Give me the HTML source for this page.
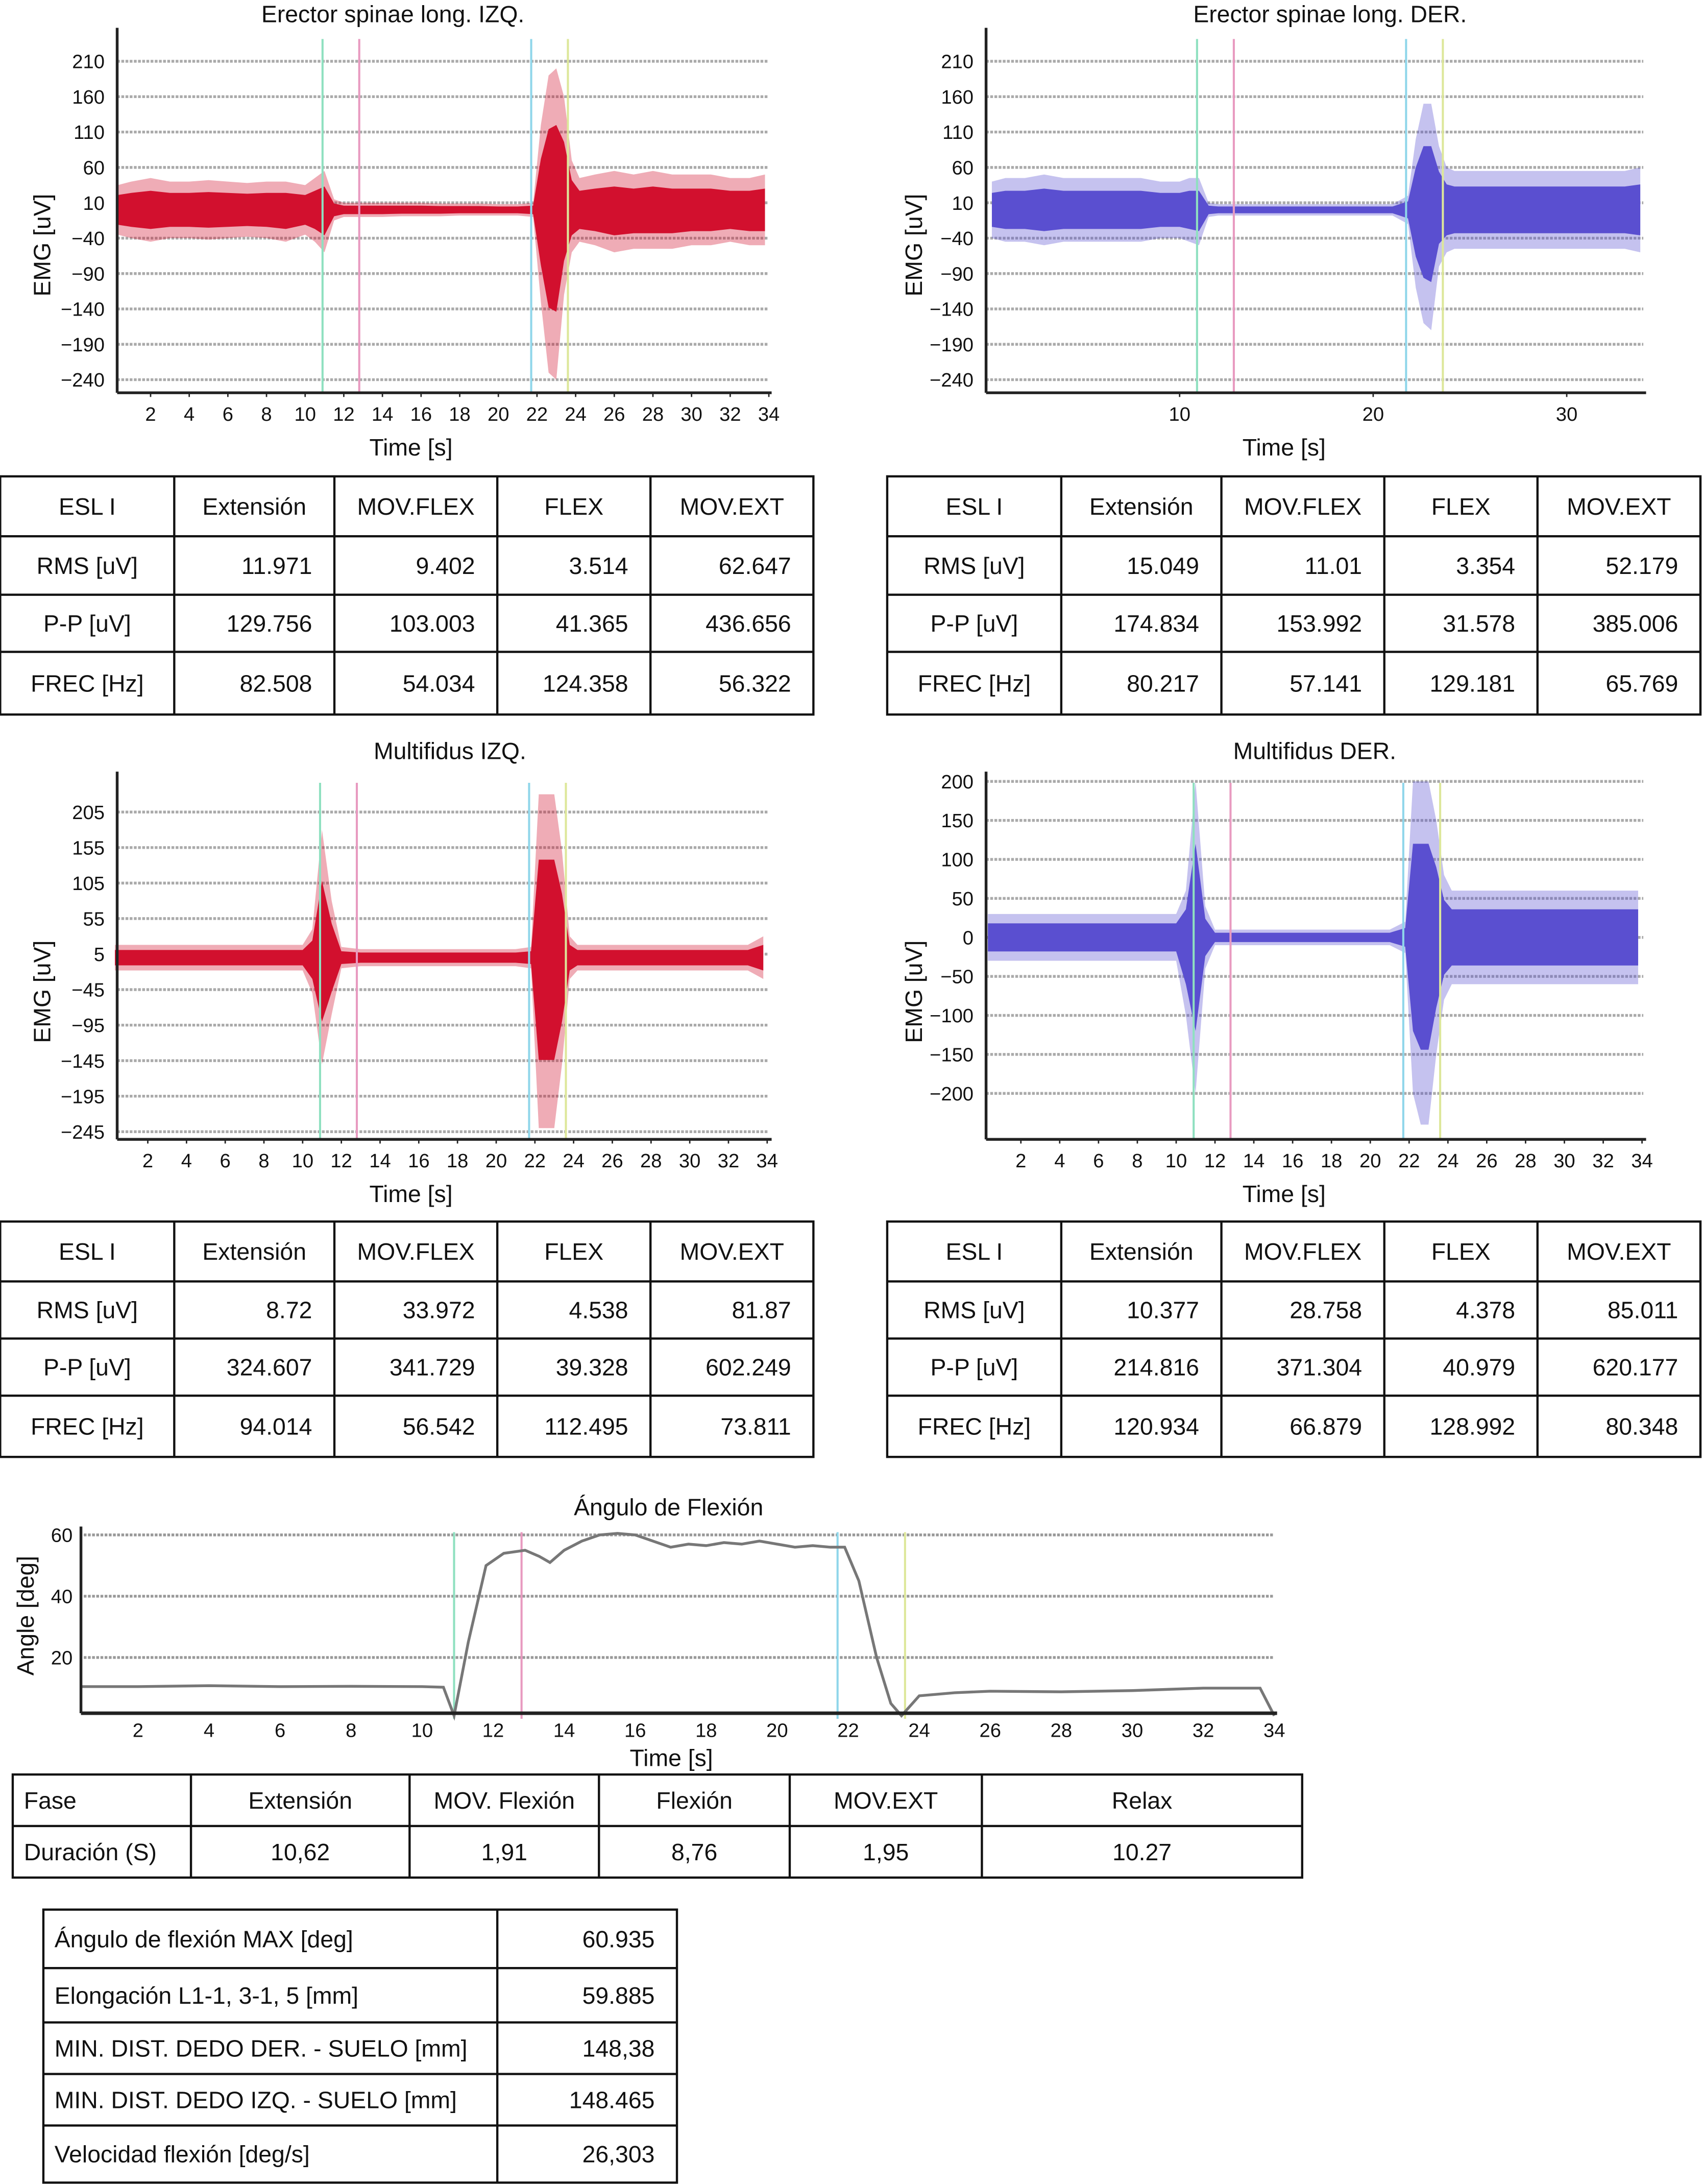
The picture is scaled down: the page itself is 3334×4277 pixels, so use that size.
<!DOCTYPE html>
<html><head><meta charset="utf-8"><style>
html,body{margin:0;padding:0;background:#fff}
svg{display:block}
text{font-family:"Liberation Sans Narrow","Liberation Sans",sans-serif;fill:#111}
</style></head><body>
<svg id="root" xmlns="http://www.w3.org/2000/svg" width="3334" height="4277" viewBox="0 0 1222 1568">
<rect width="1222" height="1568" fill="#fff"/>
</svg>
<script>
const NS="http://www.w3.org/2000/svg";
const root=document.getElementById('root');
function el(tag,attrs,parent,txt){const e=document.createElementNS(NS,tag);for(const k in attrs)e.setAttribute(k,attrs[k]);if(txt!==undefined)e.textContent=txt;(parent||root).appendChild(e);return e;}

// ===== DATA =====
const emgTimes=[0.3,1,2,3,4,5,6,7,8,9,10,10.5,11,11.5,12,13,14,15,16,17,18,19,20,21,21.8,22.2,22.6,23,23.4,23.8,24.2,25,26,27,28,29,30,31,32,33,33.8];
const eslIzqTop=[35,40,45,40,40,42,40,38,40,40,35,45,55,15,10,10,10,10,10,9,9,9,8,8,10,120,190,200,160,70,45,50,55,50,55,50,50,50,45,45,50];
const eslIzqBot=[35,40,45,40,40,42,40,38,40,45,35,45,60,15,10,10,10,9,9,9,8,8,8,8,10,130,230,240,120,60,45,50,60,55,55,55,50,50,45,50,50];
const eslDerTop=[40,45,45,50,45,45,45,45,45,40,40,45,45,10,8,8,8,8,8,8,8,8,8,8,20,100,150,150,90,60,55,55,55,55,55,55,55,55,55,55,60];
const eslDerBot=[40,45,45,50,45,45,45,45,45,40,40,45,50,10,8,8,8,8,8,8,8,8,8,8,20,110,160,170,80,60,55,55,55,55,55,55,55,55,55,55,60];
const mfIzqTop=[18,18,18,18,18,18,18,18,18,18,18,40,180,80,15,12,12,12,12,12,12,12,12,12,15,230,230,230,150,30,18,18,18,18,18,18,18,18,18,18,30];
const mfIzqBot=[18,18,18,18,18,18,18,18,18,18,18,50,150,80,15,12,12,12,12,12,12,12,12,12,15,240,240,240,150,30,18,18,18,18,18,18,18,18,18,18,30];
const mfDerTop=[30,30,30,30,30,30,30,30,30,30,30,60,200,40,10,10,10,10,10,10,10,10,10,10,20,200,200,200,150,80,60,60,60,60,60,60,60,60,60,60,60];
const mfDerBot=[30,30,30,30,30,30,30,30,30,30,30,100,200,40,10,10,10,10,10,10,10,10,10,10,20,200,240,240,150,80,60,60,60,60,60,60,60,60,60,60,60];
const eventTimes=[10.9,12.8,21.7,23.6];
const eventColors=["#8fe0c0","#e89ac0","#8fd6ea","#dde79a"];
const angleTimes=[0.4,2,4,6,8,10,10.6,10.9,11.3,11.8,12.3,12.9,13.3,13.6,14,14.5,15,15.5,16,16.5,17,17.5,18,18.5,19,19.5,20,20.5,21,21.5,21.9,22.3,22.8,23.2,23.5,24,25,26,28,30,32,33.6,34];
const angleVals=[10.5,10.5,10.8,10.5,10.6,10.5,10.3,1,25,50,54,55,53,51,55,58,60,60.5,60,58,56,57,56.5,57.5,57,58,57,56,56.5,56,56,45,20,5,1,7.5,8.5,9,8.8,9.2,10,10,1];

// ===== helpers =====
function axisLines(g,x0,x1,y0,y1){
  el('line',{x1:x0,y1:y0-8,x2:x0,y2:y1,stroke:'#222','stroke-width':2},g);
  el('line',{x1:x0,y1:y1,x2:x1+2,y2:y1,stroke:'#222','stroke-width':2},g);
}
function emgChart(o){
  const g=el('g',{});
  
  
  const X=t=>o.xa+(t-o.t0)*o.xs, Y=v=>o.y0+(o.v0-v)*o.ys;
  const tt=el('text',{x:o.tx,y:o.ty,'font-size':17,'text-anchor':'middle'},g,o.title);
  
  o.yt.forEach(v=>{
    el('line',{x1:o.left,x2:o.right,y1:Y(v),y2:Y(v),stroke:'#aaa','stroke-width':2,'stroke-dasharray':'2 1'},g);
    const t=el('text',{x:o.left-9,y:Y(v)+5,'font-size':14,'text-anchor':'end'},g,(v<0?'\u2212'+(-v):v));
    
  });
  o.xt.forEach(v=>{
    el('line',{x1:X(v),x2:X(v),y1:o.bottom,y2:o.bottom+3,stroke:'#222'},g);
    const t=el('text',{x:X(v),y:o.bottom+20,'font-size':14,'text-anchor':'middle'},g,v);
    
  });
  let pts=[];
  emgTimes.forEach((t,i)=>pts.push(X(t)+','+Y(o.base+o.top[i])));
  for(let i=emgTimes.length-1;i>=0;i--)pts.push(X(emgTimes[i])+','+Y(o.base-o.bot[i]));
  const p1=el('polygon',{points:pts.join(' '),fill:o.color,opacity:0.35},g);
  
  pts=[];
  emgTimes.forEach((t,i)=>pts.push(X(t)+','+Y(o.base+o.top[i]*0.6)));
  for(let i=emgTimes.length-1;i>=0;i--)pts.push(X(emgTimes[i])+','+Y(o.base-o.bot[i]*0.6));
  const p2=el('polygon',{points:pts.join(' '),fill:o.color},g);
  
  eventTimes.forEach((t,i)=>{
    const l=el('line',{x1:X(t),x2:X(t),y1:o.top0,y2:o.bottom,stroke:eventColors[i],'stroke-width':1.5},g);
    
  });
  axisLines(g,o.left,o.right,o.top0,o.bottom);
  const xl=el('text',{x:o.xlx,y:o.bottom+45,'font-size':17,'text-anchor':'middle'},g,'Time [s]');
  
  const yl=el('text',{x:0,y:0,'font-size':17,'text-anchor':'middle',transform:`translate(${o.ylx},${o.yly}) rotate(-90)`,style:'font-family:"Liberation Sans",sans-serif'},g,'EMG [uV]');
  
}
const evenT=[2,4,6,8,10,12,14,16,18,20,22,24,26,28,30,32,34];
emgChart({name:'esl-izq-chart',title:'Erector spinae long. IZQ.',tx:282,ty:16,xa:108,t0:2,xs:13.875,y0:44,v0:210,ys:25.4/50,
  yt:[210,160,110,60,10,-40,-90,-140,-190,-240],xt:evenT,left:84,right:552,top0:28,bottom:282,base:0,top:eslIzqTop,bot:eslIzqBot,color:'#d2102e',xlx:295,ylx:36,yly:176});
emgChart({name:'esl-der-chart',title:'Erector spinae long. DER.',tx:955,ty:16,xa:847,t0:10,xs:13.9,y0:44,v0:210,ys:25.4/50,
  yt:[210,160,110,60,10,-40,-90,-140,-190,-240],xt:[10,20,30],left:708,right:1180,top0:28,bottom:282,base:0,top:eslDerTop,bot:eslDerBot,color:'#5a4fd0',xlx:922,ylx:662,yly:176});
emgChart({name:'multifidus-izq-chart',title:'Multifidus IZQ.',tx:323,ty:545,xa:106,t0:2,xs:13.9,y0:583,v0:205,ys:25.5/50,
  yt:[205,155,105,55,5,-45,-95,-145,-195,-245],xt:evenT,left:84,right:552,top0:562,bottom:818,base:0,top:mfIzqTop,bot:mfIzqBot,color:'#d2102e',xlx:295,ylx:36,yly:712});
emgChart({name:'multifidus-der-chart',title:'Multifidus DER.',tx:944,ty:545,xa:733,t0:2,xs:13.94,y0:561,v0:200,ys:28/50,
  yt:[200,150,100,50,0,-50,-100,-150,-200],xt:evenT,left:708,right:1180,top0:562,bottom:818,base:0,top:mfDerTop,bot:mfDerBot,color:'#5a4fd0',xlx:922,ylx:662,yly:712});

// ===== tables =====
function table(name,x,cols,rows,data,aligns,fs){
  const g=el('g',{});
  
  const W=cols[cols.length-1],Ht=rows[rows.length-1]-rows[0];
  el('rect',{x:x,y:rows[0],width:W,height:Ht,fill:'none',stroke:'#111','stroke-width':1.6},g);
  rows.slice(1,-1).forEach(r=>el('line',{x1:x,x2:x+W,y1:r,y2:r,stroke:'#111','stroke-width':1.6},g));
  cols.slice(1,-1).forEach(c=>el('line',{x1:x+c,x2:x+c,y1:rows[0],y2:rows[rows.length-1],stroke:'#111','stroke-width':1.6},g));
  data.forEach((row,ri)=>row.forEach((txt,ci)=>{
    const a=aligns(ri,ci);const cx0=x+cols[ci],cx1=x+cols[ci+1];
    const tx=a==='start'?cx0+8:a==='end'?cx1-16:(cx0+cx1)/2;
    const t=el('text',{x:tx,y:(rows[ri]+rows[ri+1])/2+6,'font-size':fs,'text-anchor':a},g,txt);
    
  }));
}
const emgCols=[0,125,240,357,467,584];
const alignEmg=(r,c)=>c===0?'middle':(r===0?'middle':'end');
table('esl-izq-table',0,emgCols,[342,385,427,468,513],[
 ['ESL I','Extensión','MOV.FLEX','FLEX','MOV.EXT'],['RMS [uV]','11.971','9.402','3.514','62.647'],
 ['P-P [uV]','129.756','103.003','41.365','436.656'],['FREC [Hz]','82.508','54.034','124.358','56.322']],alignEmg,17);
table('esl-der-table',637,emgCols,[342,385,427,468,513],[
 ['ESL I','Extensión','MOV.FLEX','FLEX','MOV.EXT'],['RMS [uV]','15.049','11.01','3.354','52.179'],
 ['P-P [uV]','174.834','153.992','31.578','385.006'],['FREC [Hz]','80.217','57.141','129.181','65.769']],alignEmg,17);
table('multifidus-izq-table',0,emgCols,[877,920,961,1002,1046],[
 ['ESL I','Extensión','MOV.FLEX','FLEX','MOV.EXT'],['RMS [uV]','8.72','33.972','4.538','81.87'],
 ['P-P [uV]','324.607','341.729','39.328','602.249'],['FREC [Hz]','94.014','56.542','112.495','73.811']],alignEmg,17);
table('multifidus-der-table',637,emgCols,[877,920,961,1002,1046],[
 ['ESL I','Extensión','MOV.FLEX','FLEX','MOV.EXT'],['RMS [uV]','10.377','28.758','4.378','85.011'],
 ['P-P [uV]','214.816','371.304','40.979','620.177'],['FREC [Hz]','120.934','66.879','128.992','80.348']],alignEmg,17);

// ===== angle chart =====
(function(){
  const g=el('g',{});
  
  const X=t=>99+(t-2)*25.5, Y=v=>1234-v*2.2;
  const t=el('text',{x:480,y:1088,'font-size':17,'text-anchor':'middle'},g,'Ángulo de Flexión');
  
  [20,40,60].forEach(v=>{
    el('line',{x1:60,x2:915,y1:Y(v),y2:Y(v),stroke:'#999','stroke-width':2,'stroke-dasharray':'2 1'},g);
    const tl=el('text',{x:52,y:Y(v)+5,'font-size':14,'text-anchor':'end'},g,v);
    
  });
  evenT.forEach(v=>{
    const tl=el('text',{x:X(v),y:1247,'font-size':14,'text-anchor':'middle'},g,v);
    
  });
  eventTimes.forEach((tv,i)=>{
    const l=el('line',{x1:X(tv),x2:X(tv),y1:1100,y2:1234,stroke:eventColors[i],'stroke-width':1.5},g);
    
  });
  const pl=el('polyline',{points:angleTimes.map((tv,i)=>X(tv)+','+Y(angleVals[i])).join(' '),fill:'none',stroke:'#777','stroke-width':2},g);
  
  el('line',{x1:58,y1:1096,x2:58,y2:1230,stroke:'#222','stroke-width':2},g);
  el('line',{x1:58,y1:1230,x2:917,y2:1230,stroke:'#222','stroke-width':2.5},g);
  const xl=el('text',{x:482,y:1268,'font-size':17,'text-anchor':'middle'},g,'Time [s]');
  
  const yl=el('text',{x:0,y:0,'font-size':17,'text-anchor':'middle',transform:'translate(24,1160) rotate(-90)',style:'font-family:"Liberation Sans",sans-serif'},g,'Angle [deg]');
  
})();

table('phase-duration-table',9,[0,128,285,421,558,696,926],[1274,1311,1348],[
 ['Fase','Extensión','MOV. Flexión','Flexión','MOV.EXT','Relax'],
 ['Duración (S)','10,62','1,91','8,76','1,95','10.27']],(r,c)=>c===0?'start':'middle',17);
table('flexion-stats-table',31,[0,326,455],[1371,1413,1452,1489,1526,1567],[
 ['Ángulo de flexión MAX [deg]','60.935'],['Elongación L1-1, 3-1, 5 [mm]','59.885'],
 ['MIN. DIST. DEDO DER. - SUELO [mm]','148,38'],['MIN. DIST. DEDO IZQ. - SUELO [mm]','148.465'],
 ['Velocidad flexión [deg/s]','26,303']],(r,c)=>c===0?'start':'end',17);
</script>
</body></html>
